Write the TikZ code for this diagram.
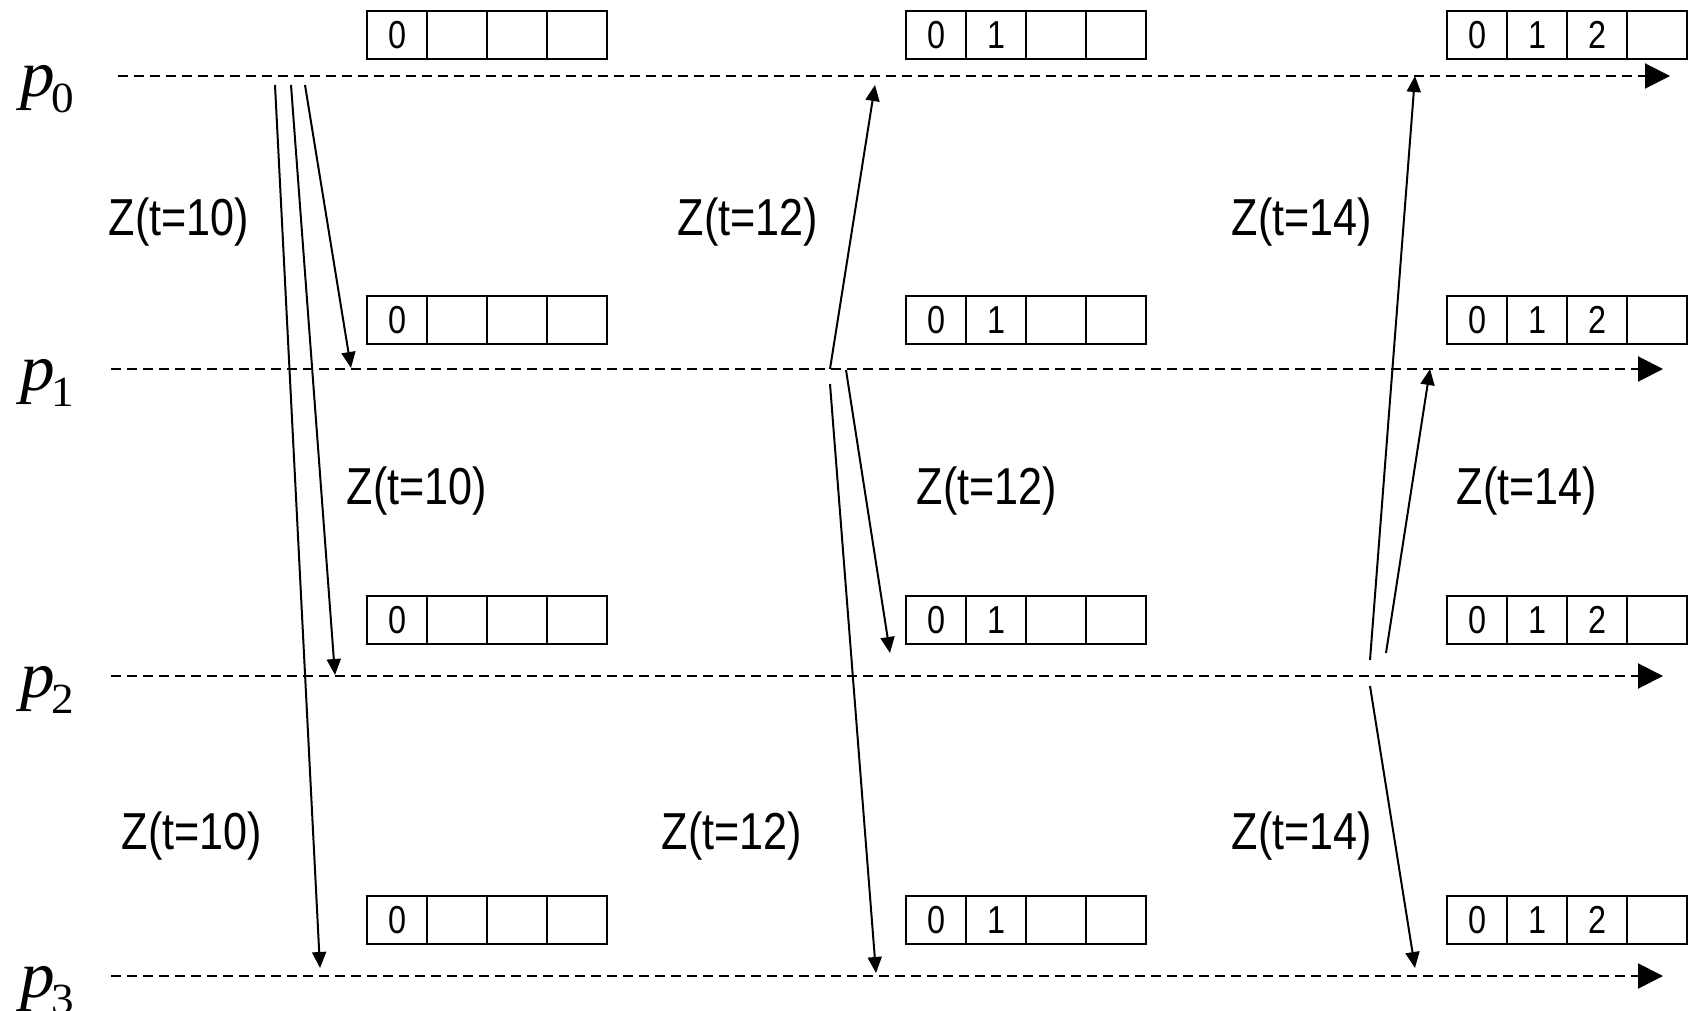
\documentclass[tikz,border=0pt]{standalone}
\usepackage{fontspec}
\setmainfont{Liberation Serif}
\newfontfamily\labelfont[FakeStretch=0.83]{Liberation Sans}
\newfontfamily\procfont[FakeStretch=1.05]{Liberation Serif}
\usetikzlibrary{arrows.meta,calc,positioning}

\tikzset{
  timeline/.style={line width=2pt, dash pattern=on 10pt off 6pt, -{Triangle[length=25pt,width=25pt]}},
  msg/.style={line width=2pt, -{Triangle[length=16pt,width=14pt]}},
  cell/.style={draw, line width=2pt, minimum width=60pt, minimum height=48pt, inner sep=0pt, anchor=north west, font=\labelfont\fontsize{39}{44}\selectfont},
  zlabel/.style={font=\labelfont\fontsize{52}{60}\selectfont, inner sep=0pt},
  proc/.style={anchor=base west, inner sep=0pt}
}
\newcommand{\procname}[1]{{\procfont\fontsize{66}{70}\selectfont\itshape p}\kern-3pt\raisebox{-16pt}{\procfont\fontsize{43}{48}\selectfont #1}}

\begin{document}
\begin{tikzpicture}[x=1pt,y=-1pt]
\useasboundingbox (0,0) rectangle (1689,1011);

\foreach \k/\y in {0/76,1/369,2/676,3/976}{
  \coordinate (S\k) at (111,\y);
  \coordinate (E\k) at (1663,\y);
  \node[proc] (P\k) at (20,\y+21) {\procname{\k}};
}
\coordinate (S0) at (118,76);
\coordinate (E0) at (1670,76);
\foreach \k in {0,...,3}
  \draw[timeline] (S\k) -- (E\k);

\foreach \c/\x/\n in {1/366/1,2/905/2,3/1446/3}
  \foreach \r/\t in {0/10,1/295,2/595,3/895}
    \foreach \i in {0,...,3}
      \node[cell] (R\c\r\i) at (\x+60*\i,\t) {\ifnum\i<\n\relax\i\fi};

\coordinate (A1) at (305,85);
\coordinate (A2) at (291,85);
\coordinate (A3) at (275,85);
\coordinate (B1) at (351,368);
\coordinate (B2) at (335,675);
\coordinate (B3) at (320,968);
\draw[msg] (A1) -- (B1);
\draw[msg] (A2) -- (B2);
\draw[msg] (A3) -- (B3);

\coordinate (C0) at (830,369);
\coordinate (C2) at (846,370);
\coordinate (C3) at (830,384);
\coordinate (D0) at (875,85);
\coordinate (D2) at (890,653);
\coordinate (D3) at (876,973);
\draw[msg] (C0) -- (D0);
\draw[msg] (C2) -- (D2);
\draw[msg] (C3) -- (D3);

\coordinate (F0) at (1370,660);
\coordinate (F1) at (1386,653);
\coordinate (F3) at (1370,686);
\coordinate (G0) at (1415,76);
\coordinate (G1) at (1430,369);
\coordinate (G3) at (1415,968);
\draw[msg] (F0) -- (G0);
\draw[msg] (F1) -- (G1);
\draw[msg] (F3) -- (G3);

\node[zlabel] (Z01) at (179,222) {Z(t=10)};
\node[zlabel] (Z02) at (748,222) {Z(t=12)};
\node[zlabel] (Z03) at (1302,222) {Z(t=14)};
\node[zlabel] (Z11) at (417,491) {Z(t=10)};
\node[zlabel] (Z12) at (987,491) {Z(t=12)};
\node[zlabel] (Z13) at (1527,491) {Z(t=14)};
\node[zlabel] (Z21) at (192,836) {Z(t=10)};
\node[zlabel] (Z22) at (732,836) {Z(t=12)};
\node[zlabel] (Z23) at (1302,836) {Z(t=14)};
\end{tikzpicture}
\end{document}
